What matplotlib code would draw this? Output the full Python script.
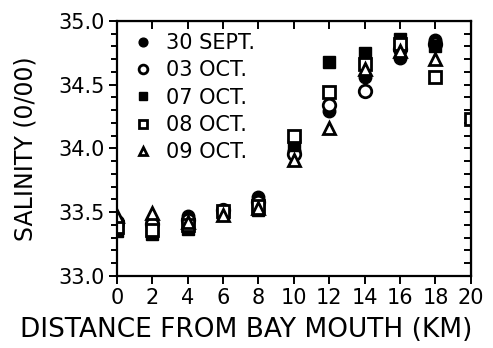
import matplotlib
matplotlib.use("Agg")
import matplotlib.pyplot as plt
from matplotlib.ticker import MultipleLocator, FormatStrFormatter

plt.rcParams['font.family'] = ['DejaVu Sans']

# distancia da boca da baia (km)
dist = [0, 2, 4, 6, 8, 10, 12, 14, 16, 18]
dist_0810 = [0, 2, 4, 6, 8, 10, 12, 14, 16, 18, 20]

sal_3009 = [33.40, 33.43, 33.47, 33.50, 33.62, 33.98, 34.29, 34.56, 34.71, 34.85]
sal_0310 = [33.42, 33.41, 33.44, 33.52, 33.58, 33.96, 34.34, 34.45, 34.78, 34.82]
sal_0710 = [33.35, 33.33, 33.37, 33.49, 33.52, 34.03, 34.68, 34.75, 34.86, 34.80]
sal_0810 = [33.38, 33.36, 33.40, 33.51, 33.55, 34.10, 34.44, 34.66, 34.82, 34.56, 34.23]
sal_0910 = [33.47, 33.49, 33.42, 33.48, 33.53, 33.91, 34.16, 34.62, 34.76, 34.70]

fig = plt.figure(figsize=(4.93, 3.48), dpi=100)
ax = fig.add_axes([0.237, 0.207, 0.718, 0.733])

ms = 9
ax.plot(dist, sal_3009, 'o', color='black', ms=ms, label='30 SEPT.')
ax.plot(dist, sal_0310, 'o', mfc='white', mec='black', mew=2, ms=ms, label='03 OCT.')
ax.plot(dist, sal_0710, 's', color='black', ms=ms, label='07 OCT.')
ax.plot(dist_0810, sal_0810, 's', mfc='white', mec='black', mew=2, ms=ms, label='08 OCT.')
ax.plot(dist, sal_0910, '^', mfc='white', mec='black', mew=2, ms=ms, label='09 OCT.')

ax.set_xlim(0, 20)
ax.set_ylim(33.0, 35.0)
ax.xaxis.set_major_locator(MultipleLocator(2))
ax.yaxis.set_major_locator(MultipleLocator(0.5))
ax.yaxis.set_minor_locator(MultipleLocator(0.1))
ax.yaxis.set_major_formatter(FormatStrFormatter('%.1f'))

ax.tick_params(axis='both', which='both', direction='out', width=1.4,
               labelsize=15, top=False, right=False)
ax.tick_params(which='major', length=6, pad=3)
ax.tick_params(which='minor', length=4)
for s in ax.spines.values():
    s.set_linewidth(1.6)

# ticks espelhados (para dentro) no topo e na direita
top = ax.secondary_xaxis('top')
top.xaxis.set_major_locator(MultipleLocator(2))
top.tick_params(direction='in', length=6, width=1.4, labeltop=False)
right = ax.secondary_yaxis('right')
right.yaxis.set_major_locator(MultipleLocator(0.5))
right.yaxis.set_minor_locator(MultipleLocator(0.1))
right.tick_params(which='both', direction='in', length=5, width=1.4, labelright=False)

fig.text(0.5, 0.052, 'DISTANCE FROM BAY MOUTH (KM)', fontsize=19,
         ha='center', va='center')
ax.set_ylabel('SALINITY (0/00)', fontsize=17, labelpad=15)

ax.legend(loc='upper left', bbox_to_anchor=(0.02, 0.985), frameon=False,
          fontsize=15, markerscale=0.7, handletextpad=0.6, labelspacing=0.35,
          borderaxespad=0.0, handlelength=1.0)

fig.savefig('out.png', dpi=100)
